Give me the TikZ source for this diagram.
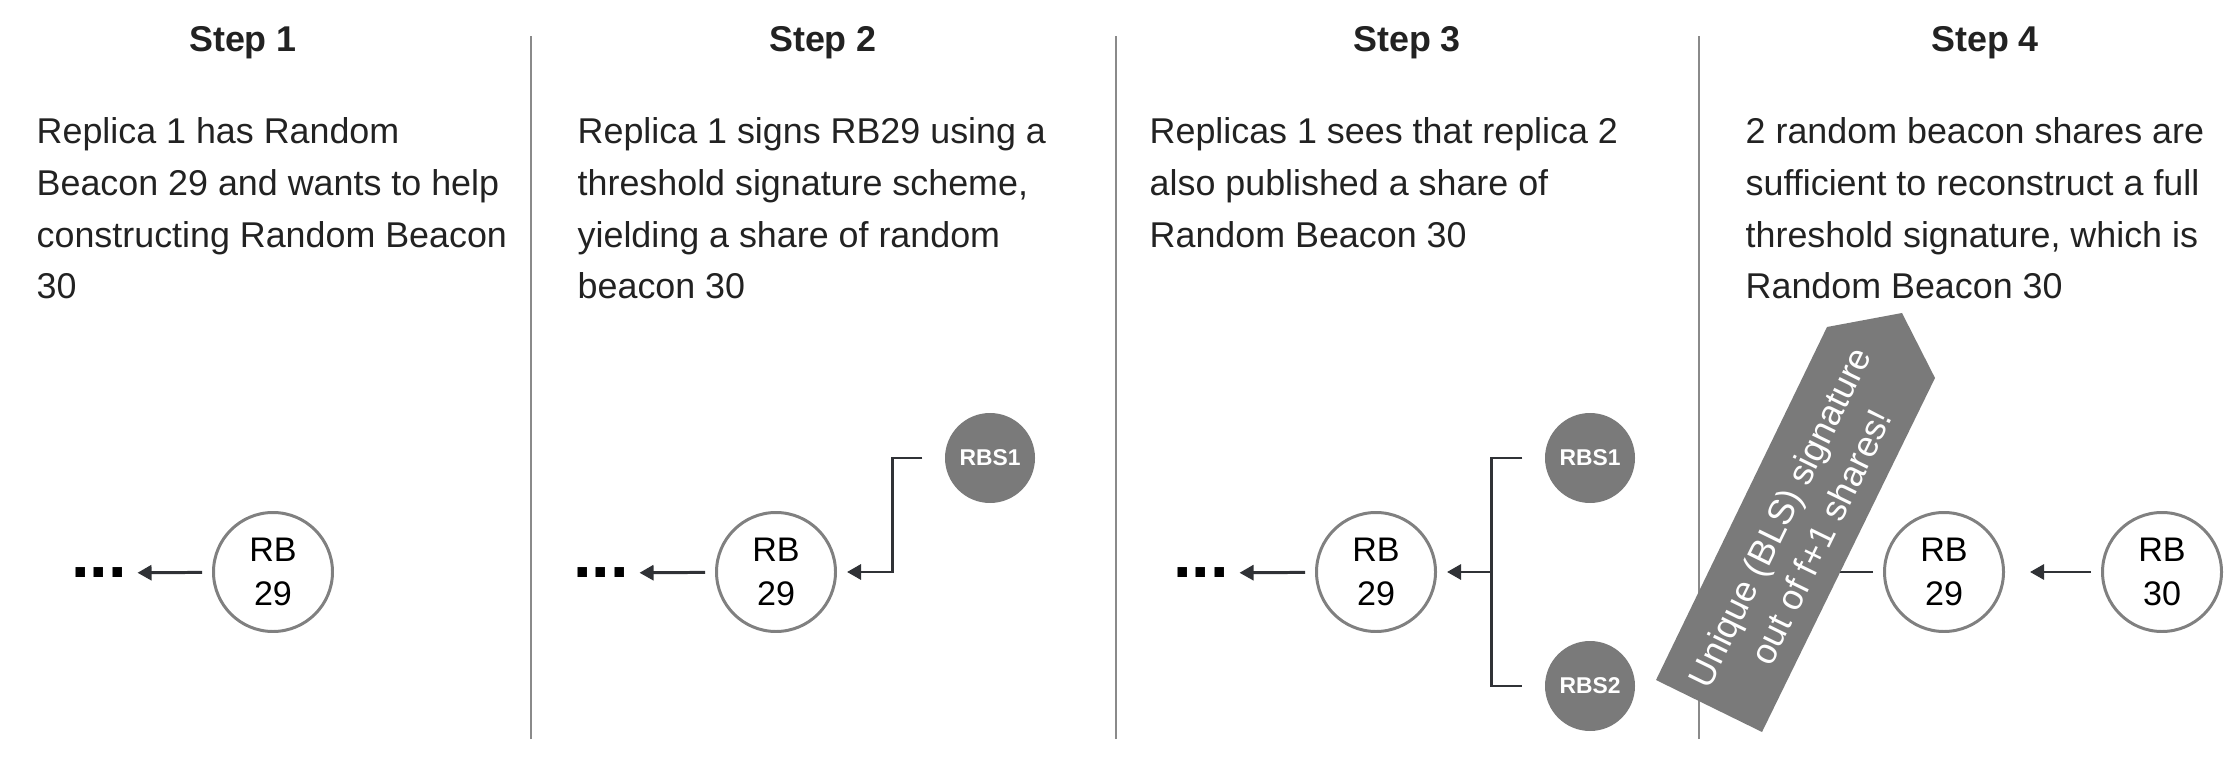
\documentclass[tikz,border=0pt]{standalone}
\usepackage{fontspec}
\setmainfont{Liberation Sans}
\usetikzlibrary{arrows.meta}
\definecolor{inkc}{HTML}{222222}
\definecolor{linec}{HTML}{303236}
\definecolor{greyc}{HTML}{7A7A7A}
\definecolor{ringc}{HTML}{808080}
\definecolor{rulec}{HTML}{8A8A8A}
\tikzset{title/.style={anchor=base,inner sep=0,text=inkc,font=\fontsize{10.2}{14.7}\selectfont\bfseries},
 desc/.style={anchor=north west,inner sep=0,align=left,text=inkc,font=\fontsize{10.2}{14.7}\selectfont},
 rb/.style={circle,draw=ringc,line width=0.85pt,fill=white,minimum size=1.19cm,inner sep=0,align=center,
  font=\fontsize{9.7}{12.5}\selectfont},
 rbs/.style={circle,fill=greyc,minimum size=0.9cm,inner sep=0,text=white,font=\fontsize{6.5}{8}\selectfont\bfseries},
 more/.style={inner sep=0,font=\fontsize{19}{19}\selectfont\bfseries},
 bar/.style={draw=linec,line width=0.85pt},
 link/.style={bar,-{Triangle[length=1.4mm,width=1.5mm]},shorten >=1mm,shorten <=1mm},
 divider/.style={draw=rulec,line width=0.55pt},
 note/.style={rotate=64,align=center,inner sep=0,text=white,font=\fontsize{10.2}{13}\selectfont},
 }

\begin{document}
\begin{tikzpicture}
    \useasboundingbox (0,0) rectangle (22.4,7.56);
    \foreach \x in {5.31,11.16,16.99}
        \draw[divider] (\x,0.17) -- (\x,7.20);

    \node[title] (t1) at (2.43,7.04) {Step 1};
    \node[title] (t2) at (8.23,7.04) {Step 2};
    \node[title] (t3) at (14.07,7.04) {Step 3};
    \node[title] (t4) at (19.85,7.04) {Step 4};

    \node[desc] (d1) at (0.36,6.39) {Replica 1 has Random\\Beacon 29 and wants to help\\constructing Random Beacon\\30};
    \node[desc] (d2) at (5.77,6.39) {Replica 1 signs RB29 using a\\threshold signature scheme,\\yielding a share of random\\beacon 30};
    \node[desc] (d3) at (11.49,6.39) {Replicas 1 sees that replica 2\\also published a share of\\Random Beacon 30};
    \node[desc] (d4) at (17.45,6.39) {2 random beacon shares are\\sufficient to reconstruct a full\\threshold signature, which is\\Random Beacon 30};

    % step 1
    \node[rb] (rb1) at (2.73,1.84) {RB\\29};
    \node[more] (more1) at (0.99,1.83) {...};
    \draw[link] (rb1) -- (more1);

    % step 2
    \node[rb] (rb2) at (7.76,1.84) {RB\\29};
    \node[more] (more2) at (6.01,1.83) {...};
    \node[rbs] (s2rbs1) at (9.90,2.98) {RBS1};
    \coordinate (s2bend) at (8.92,1.84);
    \draw[link] (rb2) -- (more2);
    \draw[link,shorten <=2.2mm] (s2rbs1.west) -| (s2bend) -- (rb2);

    % step 3
    \node[rb] (rb3) at (13.76,1.84) {RB\\29};
    \node[more] (more3) at (12.01,1.83) {...};
    \node[rbs] (s3rbs1) at (15.90,2.98) {RBS1};
    \node[rbs] (s3rbs2) at (15.90,0.70) {RBS2};
    \coordinate (s3fork) at (14.91,1.84);
    \draw[link] (rb3) -- (more3);
    \draw[bar,shorten <=2.2mm,shorten >=2.2mm] (s3rbs1.west) -| (s3fork) |- (s3rbs2.west);
    \draw[link,shorten <=0pt] (s3fork) -- (rb3);

    % step 4
    \node[rb] (rb4a) at (19.44,1.84) {RB\\29};
    \node[rb] (rb4b) at (21.62,1.84) {RB\\30};
    \coordinate (s4tail) at (17.9,1.84);
    \draw[link,shorten >=2.5mm] (rb4b) -- (rb4a);
    \draw[bar,shorten <=1mm] (rb4a) -- (s4tail);
    \fill[greyc] (16.56,0.76) -- (18.27,4.29) -- (19.02,4.43) -- (19.35,3.78) -- (17.62,0.24) -- cycle;
    \node[note] (sig) at (18.0,2.29) {Unique (BLS) signature\\out of f+1 shares!};
\end{tikzpicture}
\end{document}
